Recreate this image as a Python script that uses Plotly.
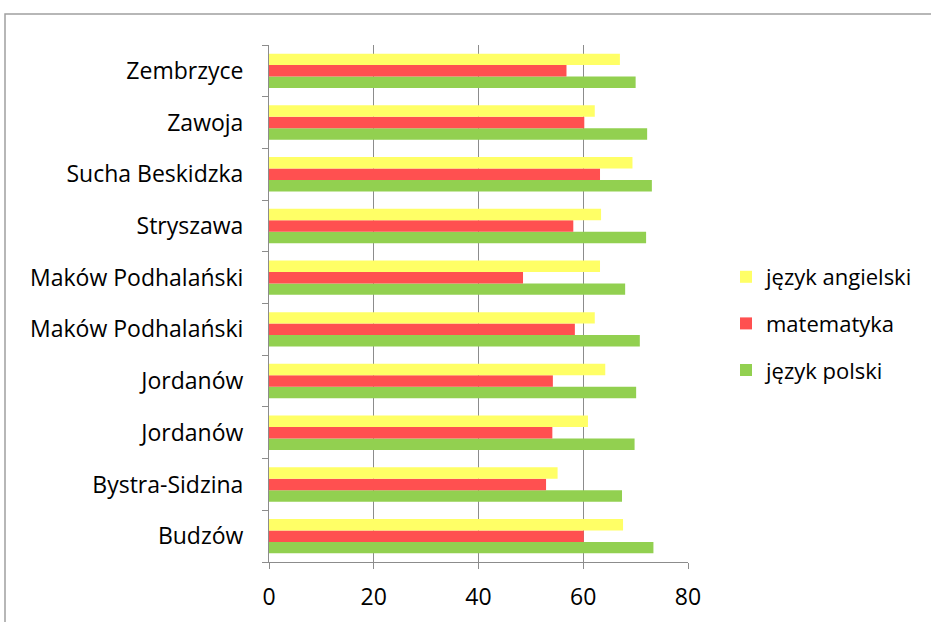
import plotly.graph_objects as go

categories = ["Budzów", "Bystra-Sidzina", "Jordanów", "Jordanów", "Maków Podhalański",
              "Maków Podhalański", "Stryszawa", "Sucha Beskidzka", "Zawoja", "Zembrzyce"]
polski = [73.4, 67.4, 69.8, 70.1, 70.8, 68.0, 72.0, 73.1, 72.2, 70.0]
matematyka = [60.1, 52.9, 54.1, 54.2, 58.4, 48.5, 58.1, 63.2, 60.2, 56.8]
angielski = [67.6, 55.1, 60.9, 64.2, 62.2, 63.2, 63.4, 69.4, 62.2, 67.0]
x_ticks = [0, 20, 40, 60, 80]

pos = list(range(len(categories)))
FONT = "Open Sans"

fig = go.Figure()
fig.add_trace(go.Bar(y=pos, x=polski, orientation="h", name="język polski",
                     marker=dict(color="#92D050", line=dict(width=0)),
                     legendgroup="c", legendrank=3))
fig.add_trace(go.Bar(y=pos, x=matematyka, orientation="h", name="matematyka",
                     marker=dict(color="#FF5050", line=dict(width=0)),
                     legendgroup="b", legendrank=2))
fig.add_trace(go.Bar(y=pos, x=angielski, orientation="h", name="język angielski",
                     marker=dict(color="#FFFF66", line=dict(width=0)),
                     legendgroup="a", legendrank=1))

W, H = 931, 622
PL, PR, PT, PB = 269, 688, 45, 562  # plot area in page pixels
L, T, R, B = PL, PT, W - PR, H - PB
pw, ph = PR - PL, PB - PT

def px2x(p):
    return (p - PL) / pw

def py2y(p):
    return (PB - p) / ph

fig.update_layout(
    width=W, height=H,
    margin=dict(l=L, r=R, t=T, b=B, pad=0, autoexpand=False),
    paper_bgcolor="white", plot_bgcolor="white",
    barmode="group", bargap=0.335, bargroupgap=0,
    font=dict(family=FONT, size=23, color="#000000"),
    showlegend=True,
    legend=dict(traceorder="grouped", tracegroupgap=15,
                x=px2x(726), y=py2y(256), xanchor="left", yanchor="top",
                font=dict(family=FONT, size=22), itemwidth=30,
                bgcolor="rgba(0,0,0,0)"),
    xaxis=dict(range=[0, 80], tickvals=x_ticks, showgrid=True, gridcolor="#8C8C8C",
               gridwidth=1, zeroline=False, showline=True, linecolor="#8C8C8C",
               ticks="outside", ticklen=6, tickcolor="#8C8C8C",
               tickfont=dict(family=FONT, size=23), ticklabelstandoff=8, fixedrange=True),
    yaxis=dict(range=[-0.5, len(categories) - 0.5], tickvals=pos, ticktext=categories,
               showgrid=False, zeroline=False, showline=True, linecolor="#8C8C8C",
               ticks="", ticklen=0, tickfont=dict(family=FONT, size=23),
               ticklabelstandoff=20,
               minor=dict(tickvals=[p - 0.5 for p in pos] + [len(pos) - 0.5],
                          ticks="outside", ticklen=6, tickcolor="#8C8C8C", showgrid=False),
               fixedrange=True),
    shapes=[dict(type="rect", xref="paper", yref="paper",
                 x0=px2x(5), x1=px2x(945), y0=py2y(640), y1=py2y(14),
                 line=dict(color="#A0A0A0", width=1.5), fillcolor="rgba(0,0,0,0)", layer="below")],
)

fig.write_html("out.html", config={"displayModeBar": False},
               post_script="document.body.style.margin='0';")
